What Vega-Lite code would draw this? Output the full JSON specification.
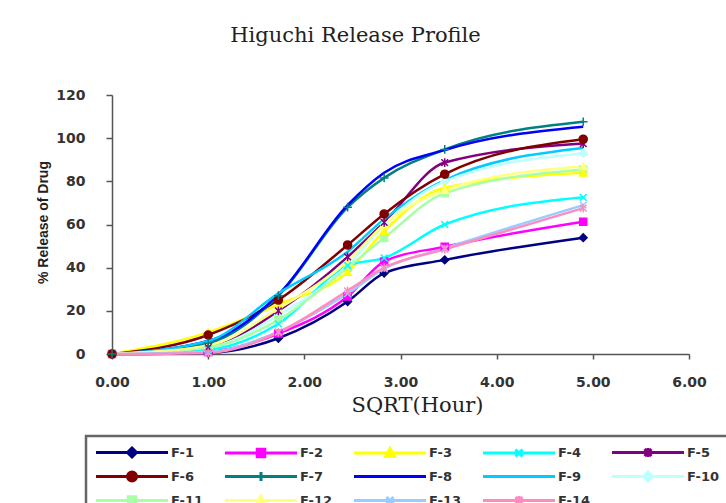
{
  "$schema": "https://vega.github.io/schema/vega-lite/v6.json",
  "width": 577,
  "height": 259,
  "autosize": {"type": "none"},
  "padding": {"left": 112, "top": 95, "right": 37, "bottom": 149},
  "background": "white",
  "title": {"text": "Higuchi Release Profile", "font": "DejaVu Serif", "fontSize": 21, "fontWeight": "normal", "color": "#222222", "anchor": "middle", "frame": "group", "dx": -45, "offset": 42},
  "data": {"values": [
    {"series": "F-1", "sqrt_hour": 0, "release": 0}, {"series": "F-1", "sqrt_hour": 1, "release": 0.5}, {"series": "F-1", "sqrt_hour": 1.73, "release": 7.3}, {"series": "F-1", "sqrt_hour": 2.45, "release": 24.3}, {"series": "F-1", "sqrt_hour": 2.83, "release": 37.5}, {"series": "F-1", "sqrt_hour": 3.46, "release": 43.6}, {"series": "F-1", "sqrt_hour": 4.9, "release": 53.9},
    {"series": "F-2", "sqrt_hour": 0, "release": 0}, {"series": "F-2", "sqrt_hour": 1, "release": 1}, {"series": "F-2", "sqrt_hour": 1.73, "release": 9.5}, {"series": "F-2", "sqrt_hour": 2.45, "release": 26.6}, {"series": "F-2", "sqrt_hour": 2.83, "release": 42.8}, {"series": "F-2", "sqrt_hour": 3.46, "release": 49.7}, {"series": "F-2", "sqrt_hour": 4.9, "release": 61.3},
    {"series": "F-3", "sqrt_hour": 0, "release": 0}, {"series": "F-3", "sqrt_hour": 1, "release": 10}, {"series": "F-3", "sqrt_hour": 1.73, "release": 23}, {"series": "F-3", "sqrt_hour": 2.45, "release": 38}, {"series": "F-3", "sqrt_hour": 2.83, "release": 57}, {"series": "F-3", "sqrt_hour": 3.46, "release": 77}, {"series": "F-3", "sqrt_hour": 4.9, "release": 84},
    {"series": "F-4", "sqrt_hour": 0, "release": 0}, {"series": "F-4", "sqrt_hour": 1, "release": 2}, {"series": "F-4", "sqrt_hour": 1.73, "release": 14}, {"series": "F-4", "sqrt_hour": 2.45, "release": 41}, {"series": "F-4", "sqrt_hour": 2.83, "release": 44.5}, {"series": "F-4", "sqrt_hour": 3.46, "release": 60}, {"series": "F-4", "sqrt_hour": 4.9, "release": 72.6},
    {"series": "F-5", "sqrt_hour": 0, "release": 0}, {"series": "F-5", "sqrt_hour": 1, "release": 3}, {"series": "F-5", "sqrt_hour": 1.73, "release": 20}, {"series": "F-5", "sqrt_hour": 2.45, "release": 45}, {"series": "F-5", "sqrt_hour": 2.83, "release": 61}, {"series": "F-5", "sqrt_hour": 3.46, "release": 88.7}, {"series": "F-5", "sqrt_hour": 4.9, "release": 97.5},
    {"series": "F-6", "sqrt_hour": 0, "release": 0}, {"series": "F-6", "sqrt_hour": 1, "release": 8.8}, {"series": "F-6", "sqrt_hour": 1.73, "release": 25}, {"series": "F-6", "sqrt_hour": 2.45, "release": 50.5}, {"series": "F-6", "sqrt_hour": 2.83, "release": 64.9}, {"series": "F-6", "sqrt_hour": 3.46, "release": 83.3}, {"series": "F-6", "sqrt_hour": 4.9, "release": 99.5},
    {"series": "F-7", "sqrt_hour": 0, "release": 0}, {"series": "F-7", "sqrt_hour": 1, "release": 5}, {"series": "F-7", "sqrt_hour": 1.73, "release": 27}, {"series": "F-7", "sqrt_hour": 2.45, "release": 68}, {"series": "F-7", "sqrt_hour": 2.83, "release": 81.6}, {"series": "F-7", "sqrt_hour": 3.46, "release": 94.8}, {"series": "F-7", "sqrt_hour": 4.9, "release": 107.6},
    {"series": "F-8", "sqrt_hour": 0, "release": 0}, {"series": "F-8", "sqrt_hour": 1, "release": 6}, {"series": "F-8", "sqrt_hour": 1.73, "release": 27.5}, {"series": "F-8", "sqrt_hour": 2.45, "release": 69}, {"series": "F-8", "sqrt_hour": 2.83, "release": 84}, {"series": "F-8", "sqrt_hour": 3.46, "release": 94.5}, {"series": "F-8", "sqrt_hour": 4.9, "release": 105.3},
    {"series": "F-9", "sqrt_hour": 0, "release": 0}, {"series": "F-9", "sqrt_hour": 1, "release": 6}, {"series": "F-9", "sqrt_hour": 1.73, "release": 28.1}, {"series": "F-9", "sqrt_hour": 2.45, "release": 47.4}, {"series": "F-9", "sqrt_hour": 2.83, "release": 62.5}, {"series": "F-9", "sqrt_hour": 3.46, "release": 80.6}, {"series": "F-9", "sqrt_hour": 4.9, "release": 95.4},
    {"series": "F-10", "sqrt_hour": 0, "release": 0}, {"series": "F-10", "sqrt_hour": 1, "release": 3}, {"series": "F-10", "sqrt_hour": 1.73, "release": 18}, {"series": "F-10", "sqrt_hour": 2.45, "release": 41}, {"series": "F-10", "sqrt_hour": 2.83, "release": 60}, {"series": "F-10", "sqrt_hour": 3.46, "release": 80}, {"series": "F-10", "sqrt_hour": 4.9, "release": 93},
    {"series": "F-11", "sqrt_hour": 0, "release": 0}, {"series": "F-11", "sqrt_hour": 1, "release": 3}, {"series": "F-11", "sqrt_hour": 1.73, "release": 15.8}, {"series": "F-11", "sqrt_hour": 2.45, "release": 40}, {"series": "F-11", "sqrt_hour": 2.83, "release": 53.8}, {"series": "F-11", "sqrt_hour": 3.46, "release": 74.5}, {"series": "F-11", "sqrt_hour": 4.9, "release": 85.5},
    {"series": "F-12", "sqrt_hour": 0, "release": 0}, {"series": "F-12", "sqrt_hour": 1, "release": 4}, {"series": "F-12", "sqrt_hour": 1.73, "release": 21}, {"series": "F-12", "sqrt_hour": 2.45, "release": 43}, {"series": "F-12", "sqrt_hour": 2.83, "release": 60}, {"series": "F-12", "sqrt_hour": 3.46, "release": 76}, {"series": "F-12", "sqrt_hour": 4.9, "release": 87},
    {"series": "F-13", "sqrt_hour": 0, "release": 0}, {"series": "F-13", "sqrt_hour": 1, "release": 1}, {"series": "F-13", "sqrt_hour": 1.73, "release": 10.3}, {"series": "F-13", "sqrt_hour": 2.45, "release": 28}, {"series": "F-13", "sqrt_hour": 2.83, "release": 39.5}, {"series": "F-13", "sqrt_hour": 3.46, "release": 49}, {"series": "F-13", "sqrt_hour": 4.9, "release": 69},
    {"series": "F-14", "sqrt_hour": 0, "release": 0}, {"series": "F-14", "sqrt_hour": 1, "release": 0.5}, {"series": "F-14", "sqrt_hour": 1.73, "release": 10}, {"series": "F-14", "sqrt_hour": 2.45, "release": 29.3}, {"series": "F-14", "sqrt_hour": 2.83, "release": 40}, {"series": "F-14", "sqrt_hour": 3.46, "release": 48.5}, {"series": "F-14", "sqrt_hour": 4.9, "release": 67.6}
  ]},
  "encoding": {
    "x": {"field": "sqrt_hour", "type": "quantitative", "scale": {"domain": [0, 6], "nice": false, "zero": false},
      "axis": {"values": [0, 1, 2, 3, 4, 5, 6], "format": ".2f", "title": "SQRT(Hour)", "titleFont": "DejaVu Serif", "titleFontSize": 21, "titleFontWeight": "normal", "titleColor": "#222222", "titleX": 305, "titleY": 51, "titleBaseline": "middle", "titleAlign": "center", "labelFont": "DejaVu Sans", "labelFontWeight": "bold", "labelFontSize": 14, "labelColor": "#333333", "labelPadding": 16, "labelFlush": false, "tickSize": 5, "tickColor": "#555555", "tickWidth": 1.5, "domainColor": "#555555", "domainWidth": 1.5, "grid": false}},
    "y": {"field": "release", "type": "quantitative", "scale": {"domain": [0, 120], "nice": false},
      "axis": {"values": [0, 20, 40, 60, 80, 100, 120], "format": "d", "title": "% Release of Drug", "titleFont": "Liberation Sans Narrow, Liberation Sans", "titleFontSize": 14, "titleFontWeight": "bold", "titleColor": "#222222", "titleX": -69, "titleY": 127, "titleBaseline": "middle", "titleAlign": "center", "titleAngle": -90, "labelFont": "DejaVu Sans", "labelFontWeight": "bold", "labelFontSize": 14, "labelColor": "#333333", "labelPadding": 21, "tickSize": 6, "tickColor": "#555555", "tickWidth": 1.5, "domainColor": "#555555", "domainWidth": 1.5, "grid": false}}
  },
  "layer": [
    {
      "mark": {"type": "line", "interpolate": "monotone", "strokeWidth": 2.5},
      "encoding": {
        "color": {"field": "series", "type": "nominal",
          "scale": {"domain": ["F-1", "F-2", "F-3", "F-4", "F-5", "F-6", "F-7", "F-8", "F-9", "F-10", "F-11", "F-12", "F-13", "F-14"],
            "range": ["#000080", "#FF00FF", "#FFFF00", "#00FFFF", "#800080", "#800000", "#008080", "#0000FF", "#00CCFF", "#BBFFFF", "#A8FFA8", "#FFFF80", "#99CCFF", "#FF8CC0"]},
          "legend": {
            "orient": "none", "legendX": -26, "legendY": 341, "direction": "horizontal", "columns": 5, "title": null,
            "symbolType": "stroke", "symbolSize": 100, "symbolStrokeWidth": 3, "symbolOffset": 29.5,
            "labelFont": "DejaVu Sans", "labelFontWeight": "bold", "labelFontSize": 13, "labelColor": "#333333", "labelOffset": 32.5,
            "columnPadding": 16, "rowPadding": 3, "gridAlign": "all", "padding": 10, "strokeColor": "#666666",
            "encode": {
              "symbols": {"update": {
                "shape": {"signal": "['M-7.2,0H7.2M0,-0.9L0.9,0L0,0.9L-0.9,0Z','M-7.2,0H7.2M-0.75,-0.75H0.75V0.75H-0.75Z','M-7.2,0H7.2M0,-0.9L0.9,0.7H-0.9Z','M-7.2,0H7.2M-0.7,-0.7L0.7,0.7M-0.7,0.7L0.7,-0.7','M-7.2,0H7.2M-0.7,-0.7L0.7,0.7M-0.7,0.7L0.7,-0.7M0,-0.9V0.9','M-7.2,0H7.2M-0.9,0A0.9,0.9,0,1,0,0.9,0A0.9,0.9,0,1,0,-0.9,0Z','M-7.2,0H7.2M0,-0.9V0.9','M-7.2,0H7.2','M-7.2,0H7.2','M-7.2,0H7.2M0,-0.9L0.9,0L0,0.9L-0.9,0Z','M-7.2,0H7.2M-0.75,-0.75H0.75V0.75H-0.75Z','M-7.2,0H7.2M0,-0.9L0.9,0.7H-0.9Z','M-7.2,0H7.2M-0.7,-0.7L0.7,0.7M-0.7,0.7L0.7,-0.7','M-7.2,0H7.2M-0.7,-0.7L0.7,0.7M-0.7,0.7L0.7,-0.7M0,-0.9V0.9'][indexof(['F-1','F-2','F-3','F-4','F-5','F-6','F-7','F-8','F-9','F-10','F-11','F-12','F-13','F-14'], datum.value)]"},
                "fill": {"scale": "color", "field": "value"},
                "stroke": {"scale": "color", "field": "value"},
                "strokeWidth": {"value": 3},
                "opacity": {"value": 1}
              }},
              "legend": {"update": {"strokeWidth": {"value": 2.5}}}
            }
          }
        }
      }
    },
    {
      "encoding": {
        "fill": {"field": "series", "type": "nominal", "legend": null,
          "scale": {"domain": ["F-1", "F-2", "F-3", "F-4", "F-5", "F-6", "F-7", "F-8", "F-9", "F-10", "F-11", "F-12", "F-13", "F-14"],
            "range": ["#000080", "#FF00FF", "#FFFF00", "#00FFFF", "#800080", "#800000", "#008080", "#0000FF", "#00CCFF", "#BBFFFF", "#A8FFA8", "#FFFF80", "#99CCFF", "#FF8CC0"]}},
        "stroke": {"field": "series", "type": "nominal", "legend": null,
          "scale": {"domain": ["F-1", "F-2", "F-3", "F-4", "F-5", "F-6", "F-7", "F-8", "F-9", "F-10", "F-11", "F-12", "F-13", "F-14"],
            "range": ["#000080", "#FF00FF", "#FFFF00", "#00FFFF", "#800080", "#800000", "#008080", "#0000FF", "#00CCFF", "#BBFFFF", "#A8FFA8", "#FFFF80", "#99CCFF", "#FF8CC0"]}}
      },
      "layer": [
        {"transform": [{"filter": {"field": "series", "oneOf": ["F-1", "F-10"]}}], "mark": {"type": "point", "shape": "diamond", "filled": true, "size": 60, "strokeWidth": 1.5, "opacity": 1}},
        {"transform": [{"filter": {"field": "series", "oneOf": ["F-2", "F-11"]}}], "mark": {"type": "point", "shape": "square", "filled": true, "size": 50, "strokeWidth": 1.5, "opacity": 1}},
        {"transform": [{"filter": {"field": "series", "oneOf": ["F-3", "F-12"]}}], "mark": {"type": "point", "shape": "triangle-up", "filled": true, "size": 55, "strokeWidth": 1.5, "opacity": 1}},
        {"transform": [{"filter": {"field": "series", "oneOf": ["F-4", "F-13"]}}], "mark": {"type": "point", "shape": "M-1,-1L1,1M-1,1L1,-1", "filled": true, "size": 45, "strokeWidth": 1.5, "opacity": 1}},
        {"transform": [{"filter": {"field": "series", "oneOf": ["F-5", "F-14"]}}], "mark": {"type": "point", "shape": "M-1,-1L1,1M-1,1L1,-1M0,-1.3V1.3", "filled": true, "size": 45, "strokeWidth": 1.5, "opacity": 1}},
        {"transform": [{"filter": {"field": "series", "equal": "F-6"}}], "mark": {"type": "point", "shape": "circle", "filled": true, "size": 65, "strokeWidth": 1.5, "opacity": 1}},
        {"transform": [{"filter": {"field": "series", "equal": "F-7"}}], "mark": {"type": "point", "shape": "M0,-1.3V1.3M-1.3,0H1.3", "filled": true, "size": 45, "strokeWidth": 1.5, "opacity": 1}}
      ]
    }
  ],
  "config": {"view": {"stroke": null}}
}
